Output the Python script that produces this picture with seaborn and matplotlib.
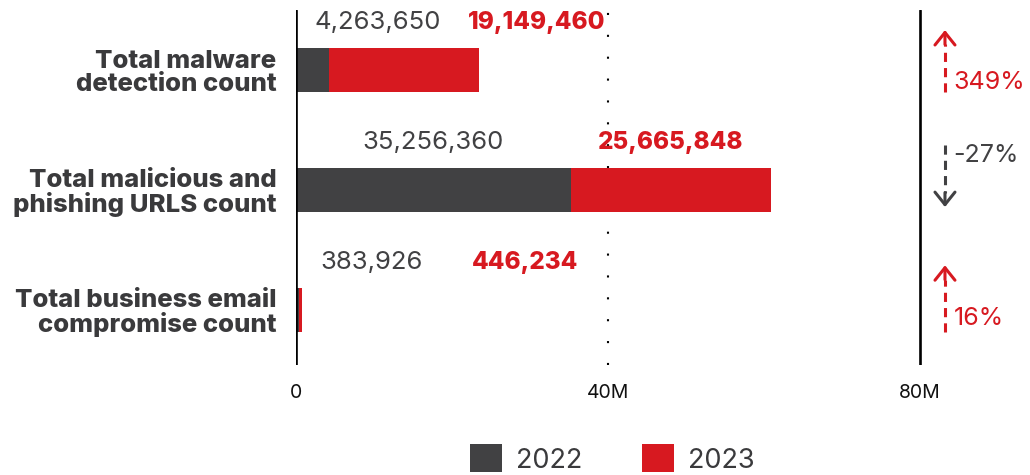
import matplotlib
matplotlib.use("Agg")
import matplotlib.pyplot as plt
import seaborn as sns
import pandas as pd
from matplotlib.patches import Patch

categories = ["Total malware\ndetection count",
              "Total malicious and\nphishing URLS count",
              "Total business email\ncompromise count"]
values_2022 = [4263650, 35256360, 383926]
values_2023 = [19149460, 25665848, 446234]
changes = ["349%", "-27%", "16%"]
tick_values = [0, 40e6, 80e6]
tick_labels = ["0", "40M", "80M"]

DARK = "#414143"
RED = "#D71920"

sns.set_theme(style="white")
plt.rcParams['font.family'] = ['Inter', 'DejaVu Sans']

df = pd.DataFrame({"cat": categories, "v22": values_2022, "v23": values_2023})
df["total"] = df["v22"] + df["v23"]

fig = plt.figure(figsize=(10.3, 4.75), dpi=100)
ax = fig.add_axes([296/1030, 1-365/475, 1-296/1030, 355/475])

sns.barplot(data=df, y="cat", x="total", color=RED, orient="h", width=0.367,
            saturation=1, linewidth=0, ax=ax)
sns.barplot(data=df, y="cat", x="v22", color=DARK, orient="h", width=0.367,
            saturation=1, linewidth=0, ax=ax)

ax.set_xlim(0, 94.1e6)
ax.set_ylim(2.458, -0.5)
ax.set_xlabel("")
ax.set_ylabel("")
for s in ax.spines.values():
    s.set_visible(False)

ax.axvline(0, color="black", lw=1.9, zorder=3)
ax.axvline(80e6, color="black", lw=1.9, zorder=0)
ax.axvline(40e6, color="black", lw=1.5, ls=(0, (1, 9.5)), zorder=0)

ax.set_xticks(tick_values)
ax.set_xticklabels(tick_labels, fontsize=14, color="#111111")
ax.tick_params(axis="x", length=0, pad=14)
ax.set_yticks(range(len(categories)))
ax.set_yticklabels(categories, fontsize=18.5, fontweight="heavy", color="#3a3a3c",
                   linespacing=1.0)
ax.tick_params(axis="y", length=0, pad=14)

# value labels (layout positions in data units)
lab22_x = [10.5e6, 17.6e6, 9.7e6]
lab23_x = [30.9e6, 48.0e6, 29.4e6]
for i in range(len(categories)):
    ax.text(lab22_x[i], i - 0.4, f"{values_2022[i]:,}", ha="center", va="center",
            fontsize=18.5, color=DARK)
    ax.text(lab23_x[i], i - 0.4, f"{values_2023[i]:,}", ha="center", va="center",
            fontsize=17.5, color=RED, fontweight="heavy")

# change arrows
ax_x = 83.2e6
for i, ch in enumerate(changes):
    up = not ch.startswith("-")
    col = RED if up else DARK
    if up:
        tip, tail = i - 0.333 - (0.04 if i == 2 else 0), i + 0.18
        head_base = tip + 0.12
        txt_y = i + 0.1 if i == 0 else i + 0.067
    else:
        tail, tip = i - 0.375, i + 0.142
        head_base = tip - 0.12
        txt_y = i - 0.29
    ax.plot([ax_x, ax_x], [tail, head_base], color=col, lw=2.2, ls=(0, (3, 2)),
            clip_on=False)
    ax.annotate("", xy=(ax_x, tip), xytext=(ax_x, head_base),
                arrowprops=dict(arrowstyle="->,head_length=0.75,head_width=0.6",
                                color=col, lw=2.2, shrinkA=0, shrinkB=0),
                annotation_clip=False)
    ax.text(ax_x + 1.1e6, txt_y, ch, ha="left", va="center", fontsize=18, color=col)

handles = [Patch(facecolor=DARK, edgecolor="none"), Patch(facecolor=RED, edgecolor="none")]
fig.legend(handles, ["2022", "2023"], loc="center", bbox_to_anchor=(612/1030, 1-459/475),
           ncol=2, frameon=False, fontsize=19.5, handlelength=1.2, handleheight=1.2,
           handletextpad=0.5, columnspacing=2.2, labelcolor="#3a3a3c")

fig.savefig("out.png", dpi=100)
